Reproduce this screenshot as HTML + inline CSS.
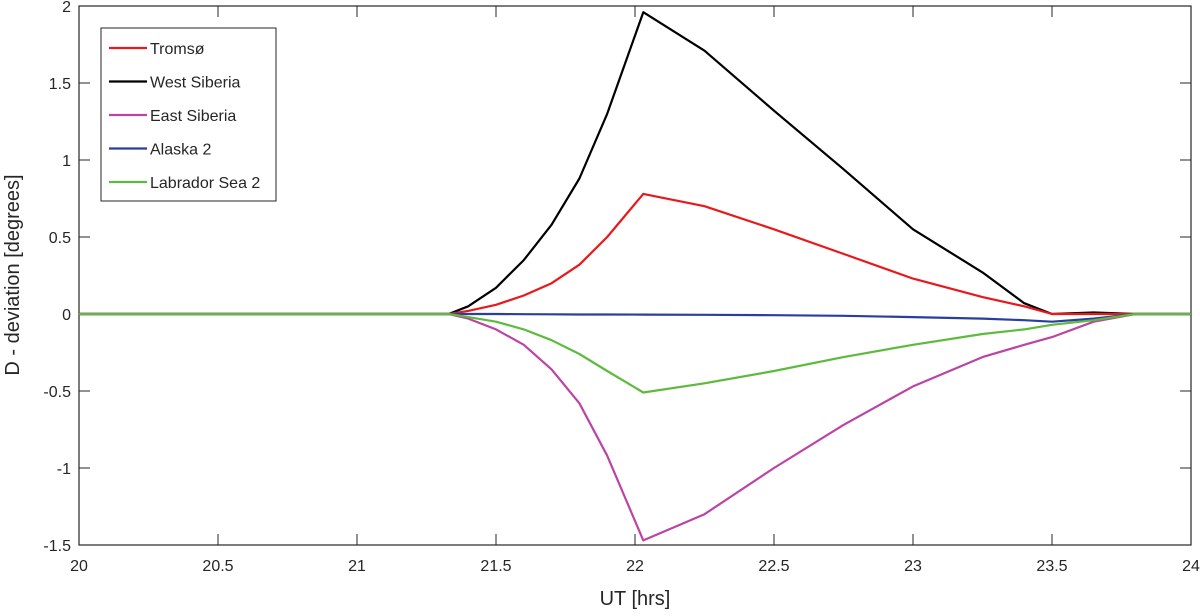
<!DOCTYPE html>
<html><head><meta charset="utf-8"><style>
body{margin:0;background:#fff;font-family:"Liberation Sans",Arial,sans-serif}
svg text{font-family:"Liberation Sans",Arial,sans-serif;fill:#262626}
</style></head><body>
<svg id="chart" width="1200" height="611" xmlns="http://www.w3.org/2000/svg">
<rect x="79" y="6" width="1112" height="539" fill="#fff" stroke="#262626" stroke-width="1.2"/>
<g id="ticks"></g>
<g id="lines"></g>
<text x="635" y="605" text-anchor="middle" font-size="20">UT [hrs]</text>
<text transform="translate(19,275) rotate(-90)" text-anchor="middle" font-size="20">D - deviation [degrees]</text>
<g id="legend">
<rect x="101" y="28" width="175" height="173" fill="#fff" stroke="#262626" stroke-width="1"/>
</g>
</svg>
<script>
const xTicks=[20,20.5,21,21.5,22,22.5,23,23.5,24];
const yTicks=[2,1.5,1,0.5,0,-0.5,-1,-1.5];
const names=["Tromsø","West Siberia","East Siberia","Alaska 2","Labrador Sea 2"];
const colors=["#e8181c","#000000","#bb44a4","#2a3ea0","#5cbb3c"];
const times=[20,21.33,21.4,21.5,21.6,21.7,21.8,21.9,22.03,22.25,22.5,22.75,23,23.25,23.4,23.5,23.65,23.8,24];
const tromso=[0,0,0.02,0.06,0.12,0.2,0.32,0.5,0.78,0.7,0.55,0.39,0.23,0.11,0.05,0.0,0.0,0,0];
const westSiberia=[0,0,0.05,0.17,0.35,0.58,0.88,1.3,1.96,1.71,1.32,0.94,0.55,0.27,0.07,0.0,0.01,0,0];
const eastSiberia=[0,0,-0.03,-0.1,-0.2,-0.36,-0.58,-0.92,-1.47,-1.3,-1.0,-0.72,-0.47,-0.28,-0.2,-0.15,-0.05,0,0];
const alaska=[0,0,0,0,-0.001,-0.002,-0.003,-0.003,-0.004,-0.005,-0.008,-0.012,-0.02,-0.03,-0.04,-0.05,-0.03,0,0];
const labrador=[0,0,-0.02,-0.05,-0.1,-0.17,-0.26,-0.37,-0.51,-0.45,-0.37,-0.28,-0.2,-0.13,-0.1,-0.07,-0.04,0,0];
const series=[tromso,westSiberia,eastSiberia,alaska,labrador];
const X=v=>79+(v-20)/4*1112;
const Y=v=>6+(2-v)/3.5*539;
const NS="http://www.w3.org/2000/svg";
const tg=document.getElementById('ticks');
function mk(t,a,p){const e=document.createElementNS(NS,t);for(const k in a)e.setAttribute(k,a[k]);p.appendChild(e);return e;}
xTicks.forEach(v=>{
 const l=mk('line',{x1:X(v),x2:X(v),y1:545,y2:534,stroke:'#262626'},tg);
 
 
 const l2=mk('line',{x1:X(v),x2:X(v),y1:6,y2:17,stroke:'#262626'},tg);
 
 
 const t=mk('text',{x:X(v),y:571,'text-anchor':'middle','font-size':16},tg);t.textContent=v;
 
 
});
yTicks.forEach(v=>{
 const l=mk('line',{x1:79,x2:90,y1:Y(v),y2:Y(v),stroke:'#262626'},tg);
 
 
 const l2=mk('line',{x1:1191,x2:1180,y1:Y(v),y2:Y(v),stroke:'#262626'},tg);
 
 
 const t=mk('text',{x:71,y:Y(v)+6,'text-anchor':'end','font-size':16},tg);t.textContent=v;
 
 
});
const lg=document.getElementById('lines');
function path(arr){
 return times.map((t,i)=>(i?'L':'M')+X(t).toFixed(1)+','+Y(arr[i]).toFixed(1)).join(' ');
}
const order=[1,0,2,3,4];
order.forEach(i=>{
 const e=mk('path',{d:path(series[i]),fill:'none',stroke:colors[i],'stroke-width':2.2,'stroke-linejoin':'round'},lg);
 
 
});
const leg=document.getElementById('legend');
names.forEach((n,i)=>{
 const y=48+i*33.5;
 const l=mk('line',{x1:109,x2:147,y1:y,y2:y,stroke:colors[i],'stroke-width':2.2},leg);
 
 
 const t=mk('text',{x:150,y:y+6,'font-size':16,fill:'#000'},leg);t.textContent=n;
 
 
});
</script>
</body></html>
